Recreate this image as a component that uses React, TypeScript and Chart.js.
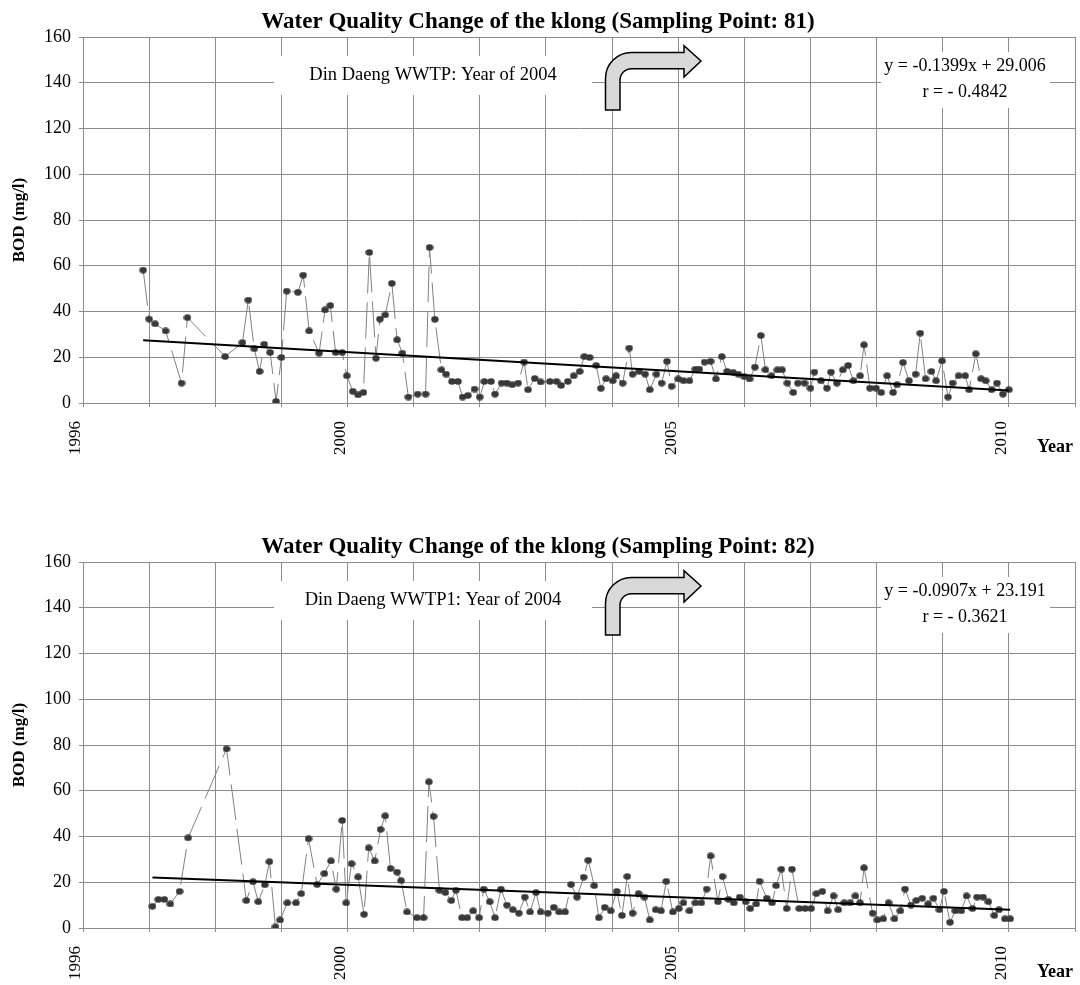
import React, { useEffect, useRef } from "react";
import { Chart, registerables } from "chart.js";

Chart.register(...registerables);

const SERIF = '"Liberation Serif", "Times New Roman", serif';

// Sampling Point 81: sample dates (decimal years) and BOD (mg/l)
const years81 = [
  1996.91, 1997.0, 1997.09, 1997.25, 1997.49, 1997.58, 1998.15, 1998.41, 1998.5, 1998.59,
  1998.67, 1998.74, 1998.83, 1998.92, 1999.0, 1999.08, 1999.25, 1999.33, 1999.42, 1999.57,
  1999.66, 1999.74, 1999.82, 1999.92, 1999.99, 2000.08, 2000.16, 2000.24, 2000.33, 2000.43,
  2000.49, 2000.57, 2000.67, 2000.75, 2000.83, 2000.92, 2001.06, 2001.18, 2001.24, 2001.32,
  2001.42, 2001.49, 2001.58, 2001.67, 2001.74, 2001.82, 2001.92, 2002.0, 2002.07, 2002.17,
  2002.23, 2002.33, 2002.41, 2002.49, 2002.58, 2002.67, 2002.73, 2002.83, 2002.92, 2003.06,
  2003.16, 2003.23, 2003.33, 2003.42, 2003.51, 2003.58, 2003.66, 2003.76, 2003.83, 2003.91,
  2004.01, 2004.06, 2004.16, 2004.26, 2004.31, 2004.41, 2004.5, 2004.57, 2004.67, 2004.75,
  2004.83, 2004.9, 2005.0, 2005.08, 2005.17, 2005.26, 2005.32, 2005.4, 2005.49, 2005.57,
  2005.66, 2005.74, 2005.83, 2005.91, 2006.0, 2006.08, 2006.16, 2006.25, 2006.32, 2006.41,
  2006.5, 2006.57, 2006.65, 2006.74, 2006.81, 2006.91, 2007.0, 2007.06, 2007.16, 2007.25,
  2007.31, 2007.4, 2007.49, 2007.57, 2007.65, 2007.75, 2007.81, 2007.9, 2007.99, 2008.07,
  2008.16, 2008.25, 2008.31, 2008.4, 2008.49, 2008.59, 2008.66, 2008.74, 2008.83, 2008.9,
  2008.99, 2009.08, 2009.15, 2009.24, 2009.34, 2009.4, 2009.5, 2009.58, 2009.65, 2009.74,
  2009.82, 2009.91, 2010.0,
];
const bod81 = [
  58.1, 36.7, 34.6, 31.5, 8.7, 37.3, 20.3, 26.4, 45.0, 23.7,
  13.8, 25.7, 22.1, 0.7, 19.9, 48.9, 48.4, 55.9, 31.5, 21.8,
  40.7, 42.6, 22.1, 22.1, 11.9, 5.1, 3.6, 4.6, 65.8, 19.6,
  36.7, 38.5, 52.3, 27.6, 21.8, 2.6, 3.9, 3.9, 68.0, 36.6,
  14.5, 12.6, 9.4, 9.4, 2.6, 3.3, 6.1, 2.6, 9.4, 9.4,
  3.9, 8.7, 8.7, 8.0, 8.7, 17.9, 5.8, 10.7, 9.2, 9.4,
  9.4, 7.7, 9.4, 11.9, 13.8, 20.3, 19.9, 16.4, 6.4, 10.6,
  9.7, 11.9, 8.7, 24.0, 12.6, 13.8, 12.6, 5.8, 12.6, 8.7,
  18.2, 7.3, 10.5, 9.7, 9.7, 14.8, 14.8, 17.9, 18.2, 10.5,
  20.3, 13.8, 13.4, 12.6, 11.5, 10.5, 15.7, 29.5, 14.5, 11.9,
  14.5, 14.5, 8.7, 4.6, 8.7, 8.7, 6.5, 13.5, 9.7, 6.5,
  13.5, 8.7, 14.5, 16.4, 9.7, 11.9, 25.4, 6.5, 6.5, 4.6,
  11.9, 4.6, 8.0, 17.7, 9.7, 12.6, 30.5, 10.6, 13.8, 9.7,
  18.4, 2.6, 8.7, 11.9, 11.9, 5.8, 21.5, 10.6, 9.7, 5.8,
  8.7, 3.9, 5.8,
];

// Sampling Point 82: sample dates (decimal years) and BOD (mg/l)
const years82 = [
  1997.05, 1997.14, 1997.23, 1997.32, 1997.46, 1997.59, 1998.17, 1998.47, 1998.57, 1998.65,
  1998.75, 1998.82, 1998.91, 1998.98, 1999.09, 1999.22, 1999.3, 1999.41, 1999.54, 1999.65,
  1999.75, 1999.83, 1999.92, 1999.98, 2000.06, 2000.16, 2000.25, 2000.32, 2000.41, 2000.5,
  2000.57, 2000.65, 2000.75, 2000.81, 2000.9, 2001.05, 2001.15, 2001.23, 2001.3, 2001.39,
  2001.48, 2001.57, 2001.64, 2001.73, 2001.81, 2001.9, 2001.99, 2002.06, 2002.15, 2002.23,
  2002.32, 2002.41, 2002.5, 2002.59, 2002.68, 2002.76, 2002.85, 2002.92, 2003.03, 2003.12,
  2003.2, 2003.29, 2003.38, 2003.47, 2003.57, 2003.64, 2003.73, 2003.8, 2003.89, 2003.98,
  2004.07, 2004.15, 2004.23, 2004.31, 2004.4, 2004.49, 2004.57, 2004.66, 2004.74, 2004.82,
  2004.92, 2005.01, 2005.08, 2005.17, 2005.26, 2005.35, 2005.43, 2005.49, 2005.6, 2005.67,
  2005.76, 2005.84, 2005.93, 2006.02, 2006.09, 2006.18, 2006.23, 2006.34, 2006.42, 2006.48,
  2006.56, 2006.64, 2006.72, 2006.83, 2006.92, 2007.01, 2007.09, 2007.18, 2007.26, 2007.35,
  2007.42, 2007.51, 2007.6, 2007.68, 2007.75, 2007.81, 2007.94, 2008.01, 2008.1, 2008.18,
  2008.27, 2008.36, 2008.43, 2008.52, 2008.6, 2008.69, 2008.78, 2008.86, 2008.95, 2009.02,
  2009.11, 2009.19, 2009.28, 2009.36, 2009.45, 2009.52, 2009.61, 2009.69, 2009.78, 2009.85,
  2009.94, 2010.02,
];
const bod82 = [
  9.5, 12.5, 12.5, 10.5, 16, 39.4, 78.3, 12, 20.2, 11.5,
  18.9, 29.0, 0.5, 3.5, 11, 11, 15, 39.0, 19, 23.8,
  29.3, 17, 47.0, 11, 28.1, 22.3, 6, 35.0, 29.3, 43.1,
  49.0, 26.0, 24.4, 20.7, 7, 4.5, 4.5, 63.9, 48.8, 16.5,
  15.5, 12, 16.5, 4.5, 4.5, 7.5, 4.5, 17, 11.5, 4.5,
  17, 10, 8, 6.5, 13.5, 7, 15.5, 7, 6.5, 9,
  7, 7, 19, 13.5, 22.2, 29.6, 18.5, 4.5, 9, 7.5,
  16, 5.5, 22.5, 6.5, 15, 13.5, 3.5, 8, 7.5, 20.4,
  7, 8.5, 11, 7.5, 11, 11, 17, 31.5, 11.5, 22.5,
  12.5, 11, 13.5, 11.5, 8.5, 10.5, 20.4, 13, 11, 18.5,
  25.7, 8.5, 25.7, 8.5, 8.5, 8.5, 15, 16, 7.5, 14,
  8, 11, 11, 14, 11, 26.3, 6.5, 3.5, 4, 11,
  4, 7.5, 17, 10, 12, 13, 10.5, 13, 8, 16,
  2.5, 7.5, 7.5, 14, 8.5, 13.5, 13.5, 11.5, 5.5, 8,
  4, 4,
];

// Axis settings
const yearMin = 1996;
const yearMax = 2011;
const labelledYears = [1996, 2000, 2005, 2010];
const bodMin = 0;
const bodMax = 160;
const bodStep = 20;

// Linear trend (x = months counted from January 1996)
const slope81 = -0.1399;
const intercept81 = 29.006;
const r81 = -0.4842;
const slope82 = -0.0907;
const intercept82 = 23.191;
const r82 = -0.3621;

const GRID = "#8c8c8c";
const PLOT_LEFT = 83;
const PLOT_TOP = 37;
const PLOT_BOTTOM = 403;

function makeMarker(): HTMLCanvasElement {
  const c = document.createElement("canvas");
  c.width = 8;
  c.height = 7;
  const g = c.getContext("2d")!;
  g.fillStyle = "#383838";
  g.beginPath();
  g.ellipse(4, 3.5, 3.7, 3.2, 0, 0, Math.PI * 2);
  g.fill();
  return c;
}

type PanelProps = {
  width: number;
  height: number;
  title: string;
  note: string;
  years: number[];
  values: number[];
  slope: number;
  intercept: number;
  r: number;
};

function Panel(p: PanelProps) {
  const ref = useRef<HTMLCanvasElement | null>(null);

  useEffect(() => {
    const canvas = ref.current;
    if (!canvas) return;
    const trendAt = (yr: number) => p.slope * (yr - yearMin) * 12 + p.intercept;
    const first = p.years[0];
    const last = p.years[p.years.length - 1];
    const eqText = `y = ${p.slope}x + ${p.intercept}`;
    const rText = `r = ${p.r < 0 ? "- " : ""}${Math.abs(p.r)}`;

    const overlay = {
      id: "panelOverlay",
      beforeDatasetsDraw(chart: any) {
        const ctx = chart.ctx as CanvasRenderingContext2D;
        ctx.save();
        // note box
        ctx.fillStyle = "#ffffff";
        ctx.fillRect(274, 56, 318, 39);
        ctx.fillStyle = "#000";
        ctx.font = `18.5px ${SERIF}`;
        ctx.textAlign = "center";
        ctx.textBaseline = "middle";
        ctx.fillText(p.note, 433, 75);

        // equation box
        ctx.fillStyle = "#ffffff";
        ctx.fillRect(881, 52, 169, 56);
        ctx.fillStyle = "#000";
        ctx.font = `18px ${SERIF}`;
        ctx.fillText(eqText, 965, 66);
        ctx.fillText(rText, 965, 92);

        // bent arrow
        const sl = 605.5, sr = 620, sb = 110;
        const st = 52.4, sbt = 68.7;
        const hb = 684, ht = 45.6, hbm = 77, tipX = 701, tipY = 61;
        const R = 26, rr = 11.5;
        ctx.beginPath();
        ctx.moveTo(sl, sb);
        ctx.lineTo(sl, st + R);
        ctx.arcTo(sl, st, sl + R, st, R);
        ctx.lineTo(hb, st);
        ctx.lineTo(hb, ht);
        ctx.lineTo(tipX, tipY);
        ctx.lineTo(hb, hbm);
        ctx.lineTo(hb, sbt);
        ctx.lineTo(sr + rr, sbt);
        ctx.arcTo(sr, sbt, sr, sbt + rr, rr);
        ctx.lineTo(sr, sb);
        ctx.closePath();
        ctx.fillStyle = "#d9d9d9";
        ctx.fill();
        ctx.strokeStyle = "#000";
        ctx.lineWidth = 1.5;
        ctx.stroke();
        ctx.restore();
      },
      afterDraw(chart: any) {
        const ctx = chart.ctx as CanvasRenderingContext2D;
        ctx.save();
        ctx.fillStyle = "#000";
        ctx.textAlign = "center";
        ctx.textBaseline = "alphabetic";
        ctx.font = `bold 23px ${SERIF}`;
        ctx.fillText(p.title, 538, 28);

        ctx.font = `bold 18px ${SERIF}`;
        ctx.fillText("Year", 1055, 452);

        ctx.translate(20, (PLOT_TOP + PLOT_BOTTOM) / 2);
        ctx.rotate(-Math.PI / 2);
        ctx.textBaseline = "middle";
        ctx.font = `bold 17px ${SERIF}`;
        ctx.fillText("BOD (mg/l)", 0, 0);
        ctx.restore();
      },
    };

    const chart = new Chart(canvas, {
      type: "scatter",
      data: {
        datasets: [
          {
            data: p.years.map((x, i) => ({ x, y: p.values[i] })),
            showLine: true,
            borderColor: "#808080",
            borderWidth: 1,
            borderDash: [36, 9],
            pointStyle: makeMarker() as any,
            pointRadius: 4,
            order: 1,
          },
          {
            data: [
              { x: first, y: trendAt(first) },
              { x: last, y: trendAt(last) },
            ],
            showLine: true,
            borderColor: "#000000",
            borderWidth: 2,
            pointRadius: 0,
            order: 0,
          },
        ],
      },
      options: {
        responsive: false,
        animation: false,
        events: [],
        layout: { padding: { top: PLOT_TOP, right: 3, left: 0, bottom: 0 } },
        plugins: {
          legend: { display: false },
          tooltip: { enabled: false },
          title: { display: false },
        },
        scales: {
          x: {
            type: "linear",
            min: yearMin,
            max: yearMax,
            afterFit: (s: any) => {
              s.height = p.height - PLOT_BOTTOM;
              s.paddingLeft = 0;
              s.paddingRight = 0;
            },
            grid: { color: GRID, lineWidth: 1, tickLength: 4, drawTicks: true },
            border: { color: GRID, width: 1 },
            ticks: {
              stepSize: 1,
              autoSkip: false,
              minRotation: 90,
              maxRotation: 90,
              padding: 14,
              labelOffset: -7,
              color: "#000",
              font: { family: SERIF, size: 17 },
              callback: (v: any) => (labelledYears.includes(Number(v)) ? String(v) : ""),
            },
          },
          y: {
            min: bodMin,
            max: bodMax,
            afterFit: (s: any) => {
              s.width = PLOT_LEFT;
              s.paddingTop = 0;
              s.paddingBottom = 0;
            },
            grid: { color: GRID, lineWidth: 1, tickLength: 4, drawTicks: true },
            border: { color: GRID, width: 1 },
            ticks: {
              stepSize: bodStep,
              padding: 8,
              color: "#000",
              font: { family: SERIF, size: 18 },
            },
          },
        },
      },
      plugins: [overlay],
    } as any);

    return () => chart.destroy();
  }, []);

  return (
    <canvas
      ref={ref}
      width={p.width}
      height={p.height}
      style={{ display: "block", width: p.width, height: p.height }}
    />
  );
}

export default function App() {
  return (
    <div
      style={{
        position: "absolute",
        left: 0,
        top: 0,
        width: 1080,
        height: 985,
        background: "#ffffff",
      }}
    >
      <Panel
        width={1080}
        height={525}
        title="Water Quality Change of the klong (Sampling Point: 81)"
        note="Din Daeng WWTP: Year of 2004"
        years={years81}
        values={bod81}
        slope={slope81}
        intercept={intercept81}
        r={r81}
      />
      <Panel
        width={1080}
        height={460}
        title="Water Quality Change of the klong (Sampling Point: 82)"
        note="Din Daeng WWTP1: Year of 2004"
        years={years82}
        values={bod82}
        slope={slope82}
        intercept={intercept82}
        r={r82}
      />
    </div>
  );
}
